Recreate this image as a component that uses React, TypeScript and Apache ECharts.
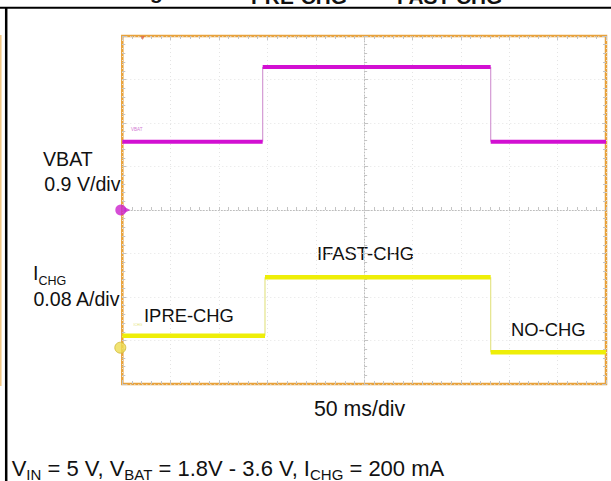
import React, { useEffect, useRef } from "react";
import * as echarts from "echarts";

// ---- data read from the scope shot ----
const TIME_MIN_MS = 0;
const TIME_MAX_MS = 500;
const TIME_DIV_MS = 50;
const VBAT_DIV_V = 0.9;
const ICHG_DIV_A = 0.08;
const ICHG_ZERO_DIV_FROM_BOTTOM = 0.835;
const DIVS_Y = 8;

const vbatEdgesMs = [0, 145.1, 380.8, 500];
const vbatLevelsV = [1.41, 2.96, 1.41];
const ichgEdgesMs = [0, 147.5, 380.8, 500];
const ichgLevelsA = [0.022, 0.1295, -0.0085];
const triggerTimeMs = [21.1];

const FONT = '"Liberation Sans", Arial, Helvetica, sans-serif';

function flatSegments(edges: number[], levels: number[]) {
  const out: any[] = [];
  levels.forEach((lv, i) => {
    out.push([edges[i], lv], [edges[i + 1], lv]);
    if (i < levels.length - 1) out.push([edges[i + 1], "-"]);
  });
  return out;
}
function edgeSegments(edges: number[], levels: number[]) {
  const out: any[] = [];
  for (let i = 1; i < levels.length; i++) {
    out.push([edges[i], levels[i - 1]], [edges[i], levels[i]], [edges[i], "-"]);
  }
  return out;
}

// text helper: y given as alphabetic baseline
function txt(x: number, baseline: number, text: string, size: number, extra: any = {}) {
  return {
    type: "text",
    x,
    y: baseline - 0.3465 * size,
    silent: true,
    style: {
      text,
      fontSize: size,
      fontFamily: FONT,
      fill: "#111",
      align: "left",
      verticalAlign: "middle",
      ...extra,
    },
  };
}

let measureCtx: CanvasRenderingContext2D | null = null;
function measure(t: string, size: number) {
  if (!measureCtx) measureCtx = document.createElement("canvas").getContext("2d");
  if (!measureCtx) return t.length * size * 0.55;
  measureCtx.font = `${size}px ${FONT}`;
  return measureCtx.measureText(t).width;
}

// sequence of texts with subscripts; parts: [text, isSub]
function subText(x: number, baseline: number, parts: [string, boolean][], main: number, sub: number, drop: number) {
  const els: any[] = [];
  let cx = x;
  parts.forEach(([t, s]) => {
    const size = s ? sub : main;
    els.push(txt(cx, s ? baseline + drop : baseline, t, size, { whiteSpace: "pre" }));
    cx += measure(t, size);
  });
  return els;
}

export default function App() {
  const ref = useRef<HTMLDivElement>(null);
  useEffect(() => {
    if (!ref.current) return;
    const chart = echarts.init(ref.current, null, { renderer: "svg" });
    const vHalf = (VBAT_DIV_V * DIVS_Y) / 2;
    const iMin = -ICHG_ZERO_DIV_FROM_BOTTOM * ICHG_DIV_A;
    const iMax = (DIVS_Y - ICHG_ZERO_DIV_FROM_BOTTOM) * ICHG_DIV_A;
    const gridLine = { show: true, lineStyle: { color: "#e4e4e4", type: [1, 3], width: 1 } };
    const tickStyle = { color: "#c4c4c4", width: 1 };
    const borderAxisX = (pos: string) => ({
      type: "value",
      min: TIME_MIN_MS,
      max: TIME_MAX_MS,
      interval: TIME_DIV_MS,
      position: pos,
      axisLine: { show: false, onZero: false },
      axisTick: { show: true, inside: true, length: 4, lineStyle: tickStyle },
      minorTick: { show: true, splitNumber: 5, length: 3, lineStyle: tickStyle },
      axisLabel: { show: false },
      splitLine: { show: false },
    });
    const borderAxisY = (pos: string, offset = 0, line = false) => ({
      type: "value",
      min: -vHalf,
      max: vHalf,
      interval: VBAT_DIV_V,
      position: pos,
      offset,
      axisLine: { show: line, onZero: false, lineStyle: { color: "#bdbdbd", type: [1, 2], width: 1 } },
      axisTick: { show: true, inside: true, length: 4, lineStyle: tickStyle },
      minorTick: { show: true, splitNumber: 5, length: 3, lineStyle: tickStyle },
      axisLabel: { show: false },
      splitLine: { show: false },
    });

    chart.setOption({
      animation: false,
      backgroundColor: "#ffffff",
      grid: {
        left: 122.3,
        top: 36,
        right: 5,
        bottom: 97,
        show: true,
        backgroundColor: "#ffffff",
        borderColor: "#E8A23C",
        borderWidth: 2.5,
        z: 0,
      },
      xAxis: [
        {
          type: "value",
          min: TIME_MIN_MS,
          max: TIME_MAX_MS,
          interval: TIME_DIV_MS,
          position: "bottom",
          axisLine: { show: true, onZero: true, onZeroAxisIndex: 0, lineStyle: { color: "#bdbdbd", type: [1, 2], width: 1 } },
          axisTick: { show: true, inside: true, length: 3, lineStyle: tickStyle },
          minorTick: { show: true, splitNumber: 5, length: 3, lineStyle: tickStyle },
          axisLabel: { show: false },
          splitLine: gridLine,
        },
        borderAxisX("bottom"),
        borderAxisX("top"),
      ],
      yAxis: [
        { ...borderAxisY("left"), splitLine: gridLine },
        { type: "value", min: iMin, max: iMax, show: false, splitLine: { show: false } },
        borderAxisY("left", -241.85, true),
        borderAxisY("right"),
      ],
      series: [
        {
          type: "line",
          name: "VBAT edges",
          xAxisIndex: 0,
          yAxisIndex: 0,
          data: edgeSegments(vbatEdgesMs, vbatLevelsV),
          showSymbol: false,
          lineStyle: { color: "#D49AD4", width: 1.2 },
          z: 3,
        },
        {
          type: "line",
          name: "VBAT",
          xAxisIndex: 0,
          yAxisIndex: 0,
          data: flatSegments(vbatEdgesMs, vbatLevelsV),
          showSymbol: false,
          lineStyle: { color: "#D210D2", width: 4, cap: "butt" },
          z: 4,
        },
        {
          type: "line",
          name: "ICHG edges",
          xAxisIndex: 0,
          yAxisIndex: 1,
          data: edgeSegments(ichgEdgesMs, ichgLevelsA),
          showSymbol: false,
          lineStyle: { color: "#E4E48A", width: 1.2 },
          z: 3,
        },
        {
          type: "line",
          name: "ICHG",
          xAxisIndex: 0,
          yAxisIndex: 1,
          data: flatSegments(ichgEdgesMs, ichgLevelsA),
          showSymbol: false,
          lineStyle: { color: "#EEEE08", width: 4.5, cap: "butt" },
          z: 4,
        },
        {
          type: "scatter",
          name: "VBAT ground",
          xAxisIndex: 0,
          yAxisIndex: 0,
          clip: false,
          data: [[TIME_MIN_MS, 0]],
          symbol: "circle",
          symbolSize: 11,
          symbolOffset: [-1.5, 0],
          itemStyle: { color: "#CC22CC" },
          z: 6,
        },
        {
          type: "scatter",
          name: "VBAT ground arrow",
          xAxisIndex: 0,
          yAxisIndex: 0,
          clip: false,
          data: [[TIME_MIN_MS, 0]],
          symbol: "triangle",
          symbolRotate: -90,
          symbolSize: [6, 6],
          symbolOffset: [5, 0],
          itemStyle: { color: "#CC22CC" },
          z: 6,
        },
        {
          type: "scatter",
          name: "ICHG ground",
          xAxisIndex: 0,
          yAxisIndex: 1,
          clip: false,
          data: [[TIME_MIN_MS, 0]],
          symbol: "circle",
          symbolSize: 11,
          symbolOffset: [-2, 0],
          itemStyle: { color: "#EEDC50", borderColor: "#D0B838", borderWidth: 1 },
          z: 6,
        },
        {
          type: "scatter",
          name: "trigger",
          xAxisIndex: 0,
          yAxisIndex: 0,
          clip: false,
          data: triggerTimeMs.map((t) => [t, vHalf]),
          symbol: "triangle",
          symbolRotate: 180,
          symbolSize: [4, 4],
          symbolOffset: [0, 2],
          itemStyle: { color: "#E0603C" },
          z: 6,
        },
      ],
      graphic: [
        { type: "line", silent: true, shape: { x1: 0, y1: 7.7, x2: 611, y2: 7.7 }, style: { stroke: "#000", lineWidth: 2 } },
        { type: "line", silent: true, shape: { x1: 6.2, y1: 7, x2: 6.2, y2: 481 }, style: { stroke: "#000", lineWidth: 2.5 } },
        { type: "line", silent: true, shape: { x1: 0.8, y1: 35, x2: 0.8, y2: 386 }, style: { stroke: "#F2C680", lineWidth: 1.5 } },
        txt(150, -1, "g", 20.8, { fontWeight: "bold" }),
        txt(251, 4, "PRE-CHG", 20.8, { fontWeight: "bold" }),
        txt(397, 4, "FAST-CHG", 20.8, { fontWeight: "bold" }),
        txt(43, 166, "VBAT", 19.6),
        txt(120.5, 190.5, "0.9 V/div", 19.6, { align: "right" }),
        ...subText(33, 280, [["I", false], ["CHG", true]], 19.6, 12.5, 5.5),
        txt(119.5, 305.5, "0.08 A/div", 19.6, { align: "right" }),
        txt(144, 322, "IPRE-CHG", 18.4),
        txt(317, 260, "IFAST-CHG", 18.4),
        txt(511, 336, "NO-CHG", 18.4),
        txt(314, 416.7, "50 ms/div", 21.3),
        ...subText(
          11.7,
          475.7,
          [
            ["V", false],
            ["IN", true],
            [" = 5 V, V", false],
            ["BAT", true],
            [" = 1.8V - 3.6 V, I", false],
            ["CHG", true],
            [" = 200 mA", false],
          ],
          22,
          15,
          4.3
        ),
        txt(131, 131.5, "VBAT", 4.5, { fill: "#D27AD2" }),
        txt(133.5, 326.5, "ICHG", 3.5, { fill: "#E4E47A" }),
      ],
    });
    return () => chart.dispose();
  }, []);
  return <div ref={ref} style={{ position: "absolute", left: 0, top: 0, width: 611, height: 481 }} />;
}
